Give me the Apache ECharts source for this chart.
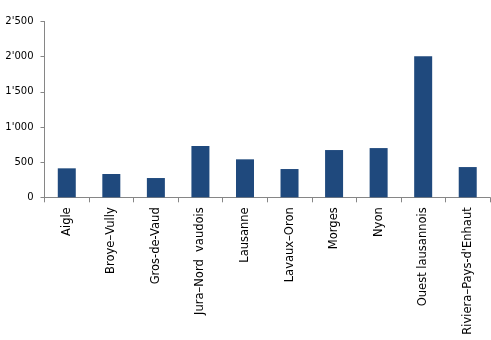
<!DOCTYPE html>
<html><head><meta charset="utf-8">
<script src="https://cdn.jsdelivr.net/npm/echarts@6/dist/echarts.min.js"></script>
<style>html,body{margin:0;padding:0;background:#fff}#c{width:491px;height:340px}</style>
</head><body><div id="c"></div>
<script>
const categories = ["Aigle","Broye–Vully","Gros-de-Vaud","Jura–Nord  vaudois","Lausanne","Lavaux–Oron","Morges","Nyon","Ouest lausannois","Riviera–Pays-d'Enhaut"];
const values = [412, 331, 274, 729, 540, 402, 672, 700, 2005, 430];
const yTicks = [0, 500, 1000, 1500, 2000, 2500];

const fmt = v => { const s = String(v); return s.length > 3 ? s.slice(0, -3) + "'" + s.slice(-3) : s; };
const chart = echarts.init(document.getElementById('c'), null, {renderer: 'canvas'});
chart.setOption({
  animation: false,
  grid: {left: 44.5, right: 1, top: 21.5, bottom: 142.7},
  xAxis: {
    type: 'category', data: categories, boundaryGap: true,
    axisLine: {lineStyle: {color: '#868686', width: 1}},
    axisTick: {show: true, length: 5, lineStyle: {color: '#868686'}},
    axisLabel: {rotate: 90, margin: 10, fontSize: 11.5, fontFamily: 'Verdana, "DejaVu Sans", sans-serif', color: '#000', interval: 0}
  },
  yAxis: {
    type: 'value', min: 0, max: 2500, interval: 500,
    axisLine: {show: true, lineStyle: {color: '#868686', width: 1}},
    axisTick: {show: true, length: 4, lineStyle: {color: '#868686'}},
    splitLine: {show: false},
    axisLabel: {margin: 11, fontSize: 10, fontFamily: 'Verdana, "DejaVu Sans", sans-serif', color: '#000',
      formatter: v => yTicks.includes(v) ? fmt(v) : ''}
  },
  series: [{type: 'bar', data: values, barWidth: 18, itemStyle: {color: '#1F497D'}}]
});
</script></body></html>
